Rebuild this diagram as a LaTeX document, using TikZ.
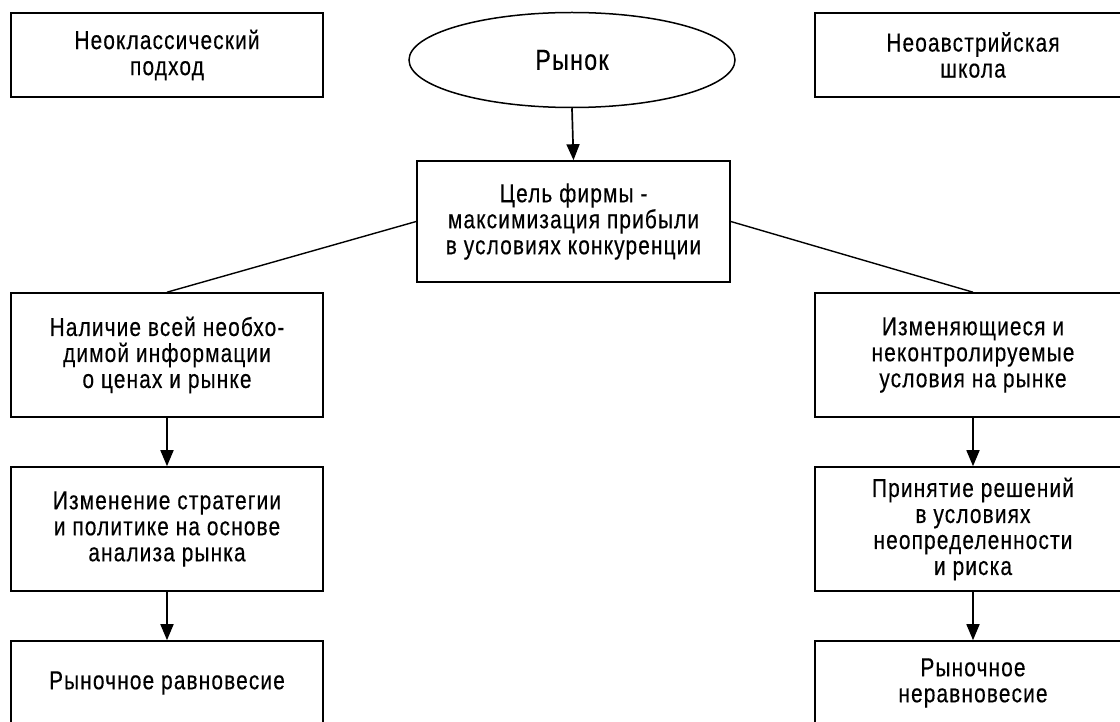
\documentclass[tikz,border=0pt]{standalone}
\usepackage{fontspec}
\setmainfont[FakeStretch=0.8,LetterSpace=4.5,FakeBold=0.4]{Liberation Sans}
\usetikzlibrary{shapes.geometric,arrows.meta}
\begin{document}
\begin{tikzpicture}[x=1pt,y=-1pt,
  box/.style={draw,line width=1.6pt,minimum width=312pt,align=center,inner sep=0pt,
    font=\fontsize{26}{26}\selectfont},
  arr/.style={line width=1.7pt,-{Triangle[length=16pt,width=13pt]}},
  link/.style={line width=1.4pt}]
\useasboundingbox (0,0) rectangle (1120,722);
\node[box,minimum height=84pt] (tl) at (167,55) {Неоклассический\\подход};
\node[box,minimum height=84pt,minimum width=316pt] (tr) at (973,55) {Неоавстрийская\\школа};
\node[ellipse,draw,line width=1.5pt,minimum width=326pt,minimum height=95pt,inner sep=0pt,
  font=\fontsize{29}{30}\selectfont] (ell) at (572,60) {Рынок};
\node[box,minimum width=313pt,minimum height=121pt] (cen) at (573.5,221.5) {Цель фирмы -\\максимизация прибыли\\в условиях конкуренции};
\node[box,minimum height=124pt] (l1) at (167,355) {Наличие всей необхо-\\димой информации\\о ценах и рынке};
\node[box,minimum height=124pt] (l2) at (167,529) {Изменение стратегии\\и политике на основе\\анализа рынка};
\node[box,minimum height=84pt] (l3) at (167,683) {Рыночное равновесие};
\node[box,minimum height=124pt,minimum width=316pt] (r1) at (973,355) {Изменяющиеся и\\неконтролируемые\\условия на рынке};
\node[box,minimum height=124pt,minimum width=316pt] (r2) at (973,529) {Принятие решений\\в условиях\\неопределенности\\и риска};
\node[box,minimum height=84pt,minimum width=316pt] (r3) at (973,683) {Рыночное\\неравновесие};
\draw[arr] (ell.south) -- (cen.north);
\draw[link] (cen.west) -- (l1.north);
\draw[link] (cen.east) -- (r1.north);
\draw[arr] (l1) -- (l2);
\draw[arr] (l2) -- (l3);
\draw[arr] (r1) -- (r2);
\draw[arr] (r2) -- (r3);
\end{tikzpicture}
\end{document}
